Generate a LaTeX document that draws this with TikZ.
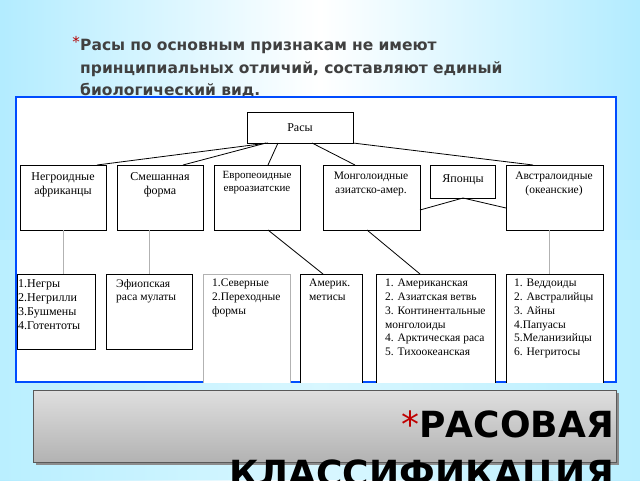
\documentclass[tikz,border=0pt]{standalone}
\usepackage{fontspec}
\setmainfont{Liberation Serif}
\newfontfamily\djsans{DejaVu Sans}
\begin{document}
\begin{tikzpicture}[x=1pt,y=-1pt,
 bx/.style={draw,line width=0.8pt,fill=white},
 lbl/.style={font=\fontsize{12}{14}\selectfont,align=center,anchor=north,inner sep=0pt},
 lst/.style={font=\fontsize{11.5}{13.8}\selectfont,align=left,anchor=north west,inner sep=0pt},
 ln/.style={line width=0.8pt},
 gl/.style={line width=1pt,gray!60}]
\useasboundingbox (0,0) rectangle (640,480);
\shade[left color=blue!25!cyan!30,right color=blue!25!cyan!30,middle color=white] (0,0) rectangle (640,480);
\fill[blue!20!cyan!25,opacity=0.6] (0,240) rectangle (640,480);
\node[anchor=north west,inner sep=0pt,font=\djsans\bfseries\fontsize{15.5}{22.5}\selectfont,text=black!75,align=left,text width=510pt] (hdr) at (80,39) {Расы по основным признакам не имеют\\принципиальных отличий, составляют единый\\биологический вид.};
\node[anchor=north east,inner sep=0pt,font=\djsans\fontsize{15}{15}\selectfont,text=red!70!black] (st1) at (80,36) {*};
% panel
\draw[fill=white,draw=blue!70!cyan,line width=1.2pt] (16,97) rectangle (616,382);
\begin{scope}
\clip (16,97) rectangle (616,382);
\draw[bx] (247,112) rectangle (353,143) node[midway,font=\fontsize{12}{12}\selectfont] (r) {Расы};
\draw[bx] (20,165) rectangle (106,230); \node[lbl] (n1) at (63,172) {Негроидные\\африканцы};
\draw[bx] (117,165) rectangle (203,230); \node[lbl] (n2) at (160,172) {Смешанная\\форма};
\draw[bx] (214,165) rectangle (300,230); \node[lbl,font=\fontsize{11}{13}\selectfont] (n3) at (257,171) {Европеоидные\\евроазиатские};
\draw[bx] (323,165) rectangle (420,230); \node[lbl,font=\fontsize{11.5}{13.5}\selectfont] (n4) at (371,172) {Монголоидные\\азиатско-амер.};
\draw[bx] (430,165) rectangle (495,198); \node[lbl] (n5) at (463,174) {Японцы};
\draw[bx] (506,165) rectangle (603,230); \node[lbl,font=\fontsize{11.5}{13.5}\selectfont] (n6) at (554,172) {Австралоидные\\(океанские)};
% connectors
\draw[ln] (268,143) -- (97,165);
\draw[ln] (266,143) -- (183,165);
\draw[ln] (278,143) -- (268,165);
\draw[ln] (312,143) -- (355,165);
\draw[ln] (353,143) -- (533,165);
\draw[ln] (420,210) -- (463,198) -- (506,208);
\draw[gl] (63,230) -- (63,274);
\draw[gl] (149,230) -- (149,274);
\draw[gl] (549,230) -- (549,274);
\draw[ln] (268,230) -- (323,274);
\draw[ln] (367,230) -- (420,274);
% bottom row
\draw[bx] (17,274) rectangle (95,349); \node[lst,font=\fontsize{12}{14}\selectfont] (b1) at (18,279) {1.Негры\\2.Негрилли\\3.Бушмены\\4.Готентоты};
\draw[bx] (106,274) rectangle (192,349); \node[lst] (b2) at (116,279) {Эфиопская\\раса мулаты};
\draw[gl,fill=white] (203,274) rectangle (290,390); \node[lst] (b3) at (212,279) {1.Северные\\2.Переходные\\формы};
\draw[bx] (300,274) rectangle (362,390); \node[lst] (b4) at (309,279) {Америк.\\метисы};
\draw[bx] (376,274) rectangle (495,390); \node[lst] (b5) at (385,279) {1. Американская\\2. Азиатская ветвь\\3. Континентальные\\монголоиды\\4. Арктическая раса\\5. Тихоокеанская};
\draw[bx] (506,274) rectangle (603,390); \node[lst] (b6) at (514,279) {1. Веддоиды\\2. Австралийцы\\3. Айны\\4.Папуасы\\5.Меланизийцы\\6. Негритосы};
\end{scope}
% title bar
\fill[black!45] (36,393) rectangle (619,465);
\shade[top color=gray!25,bottom color=gray!60,draw=gray!70!black] (33,390) rectangle (616,462);
\node[anchor=base east,inner sep=0pt,font=\djsans\bfseries\fontsize{36}{36}\selectfont] (t1) at (614,437) {\textcolor{red!75!black}{\mdseries*}РАСОВАЯ};
\node[anchor=base east,inner sep=0pt,font=\djsans\bfseries\fontsize{36}{36}\selectfont] (t2) at (614,486) {КЛАССИФИКАЦИЯ};
\end{tikzpicture}
\end{document}
